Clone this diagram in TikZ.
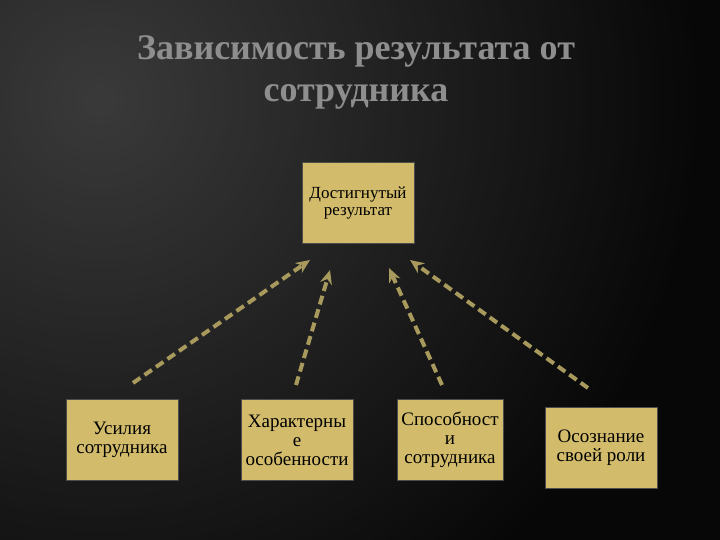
\documentclass[tikz,border=0pt]{standalone}
\usepackage{fontspec}
\setmainfont{Liberation Serif}
\usetikzlibrary{arrows.meta}
\definecolor{boxfill}{HTML}{D2BC6C}
\definecolor{arr}{HTML}{A8995C}
\definecolor{titlec}{HTML}{8E8E8E}
\tikzset{
  box/.style={fill=boxfill,draw=black!70,line width=1pt,minimum width=112pt,minimum height=81pt,align=center,font=\fontsize{19}{19}\selectfont,text=black,inner sep=0pt},
  conn/.style={arr,line width=4pt,dash pattern=on 9pt off 5pt,-{Stealth[length=14pt,width=12pt]}}
}
\begin{document}
\begin{tikzpicture}[x=1pt,y=-1pt]
\useasboundingbox (0,0) rectangle (720,540);
\begin{scope}
\clip (0,0) rectangle (720,540);
\fill[black!95] (0,0) rectangle (720,540);
\shade[inner color=black!62,outer color=black!95] (-500,-500) rectangle (700,700);
\fill[black,opacity=0.4] (0,0) rectangle (720,540);
\end{scope}
\node[text=titlec,font=\bfseries\fontsize{36}{42}\selectfont,align=center] (title) at (356,72) {Зависимость результата от\\сотрудника};
\node[box,font=\fontsize{17}{17}\selectfont] (top) at (358,203) {Достигнутый\\результат};
\node[box] (b1) at (122,440) {Усилия\\сотрудника};
\node[box] (b2) at (297,440) {Характерны\\е\\особенности};
\node[box,minimum width=106pt] (b3) at (450,440) {Способност\\и\\сотрудника};
\node[box] (b4) at (601,448) {Осознание\\своей роли};
\coordinate (s1) at (133,383); \coordinate (e1) at (310,260);
\coordinate (s2) at (296,385); \coordinate (e2) at (330,270);
\coordinate (s3) at (442,385); \coordinate (e3) at (389,268);
\coordinate (s4) at (588,388); \coordinate (e4) at (410,260);
\draw[conn] (s1) -- (e1);
\draw[conn] (s2) -- (e2);
\draw[conn] (s3) -- (e3);
\draw[conn] (s4) -- (e4);
\end{tikzpicture}
\end{document}
